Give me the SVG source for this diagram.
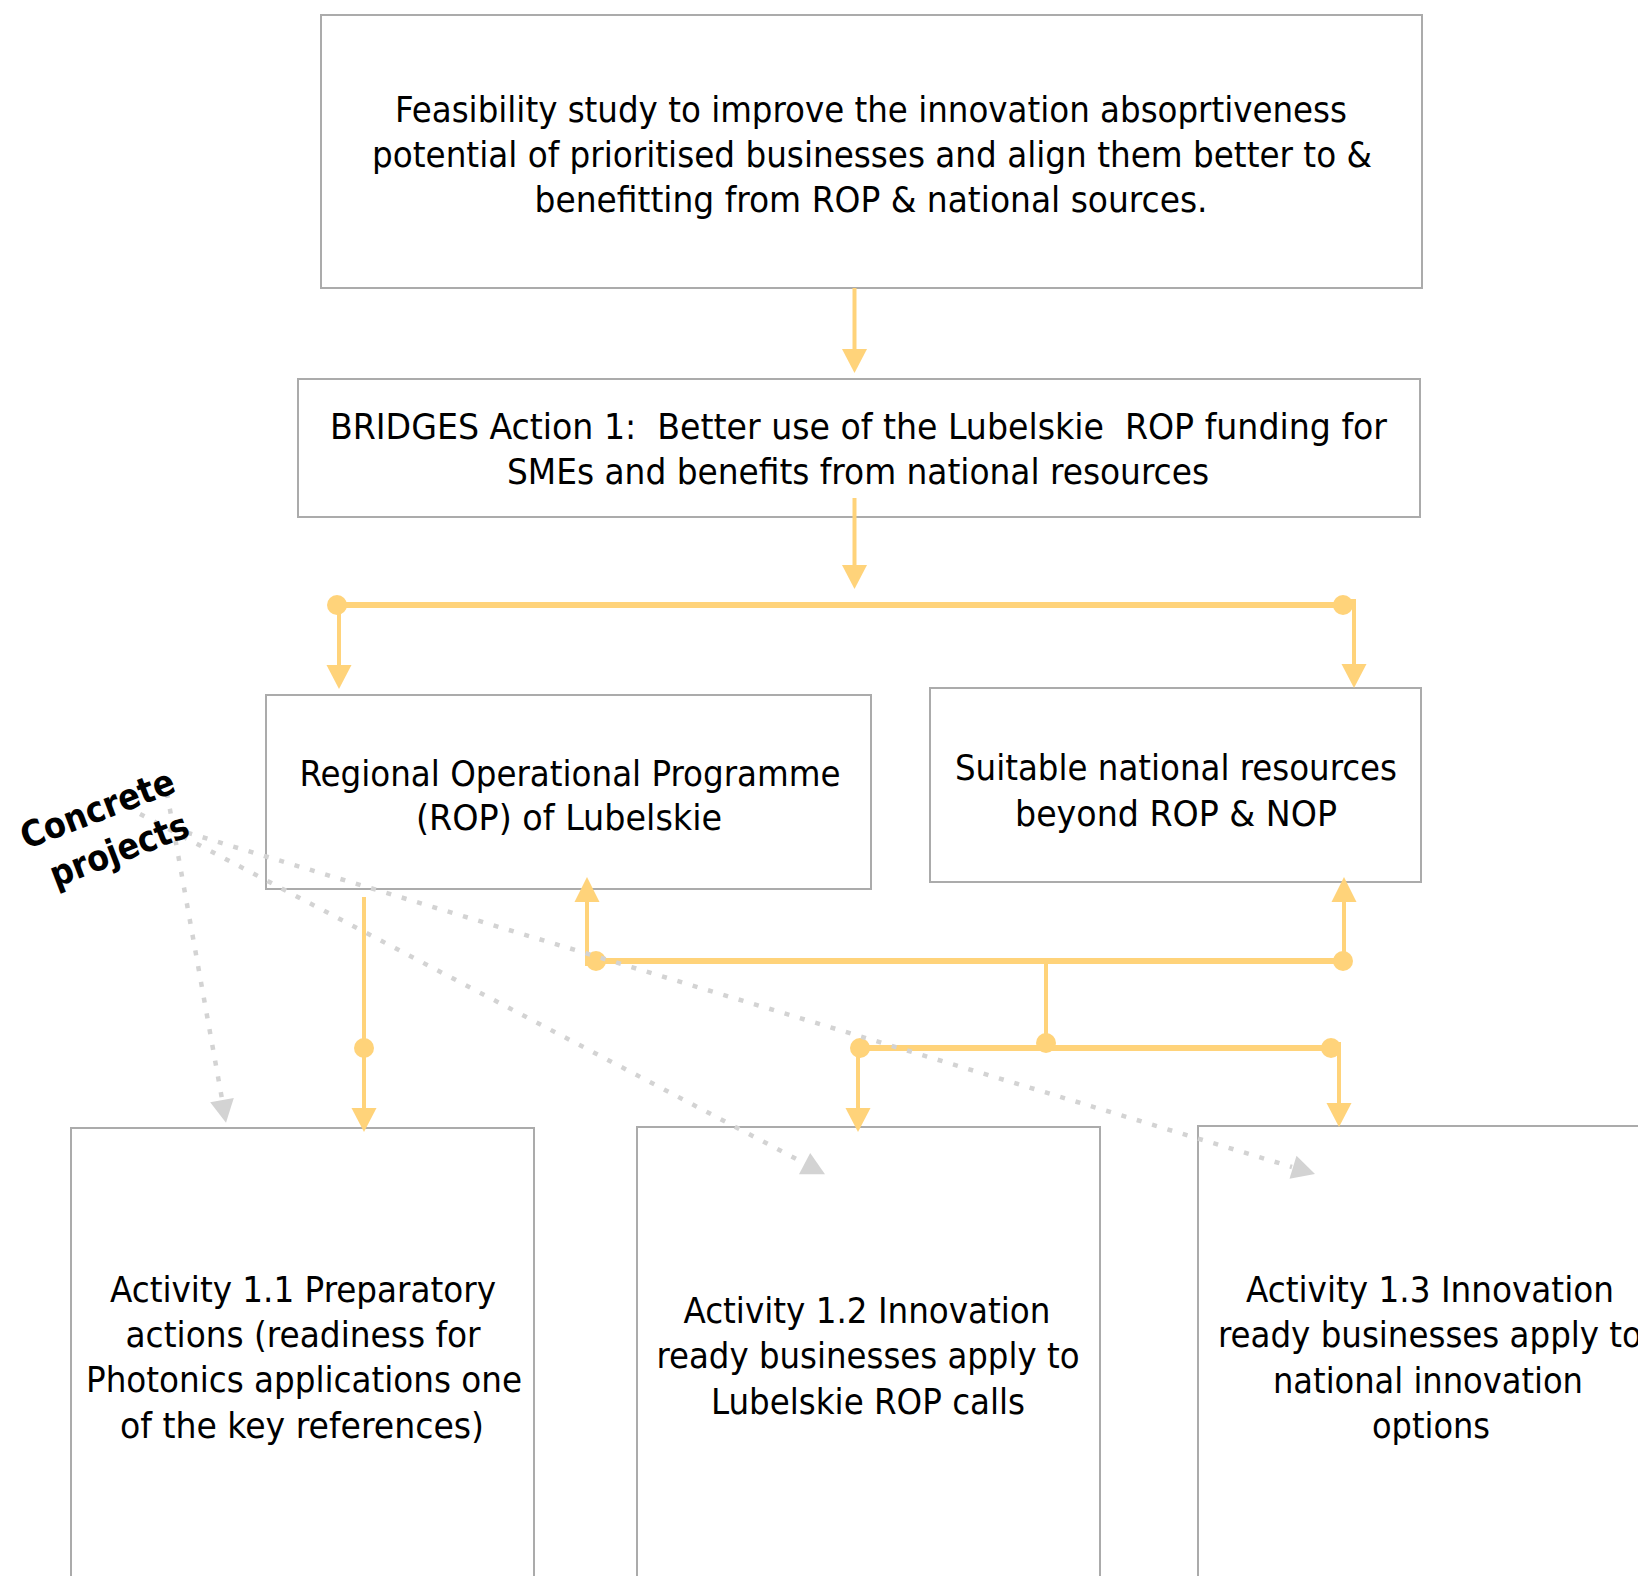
<svg xmlns="http://www.w3.org/2000/svg" width="1638" height="1576" viewBox="0 0 1638 1576">
<style>
.box{fill:#ffffff;stroke:#ababab;stroke-width:2}
.t{font-family:"DejaVu Sans Condensed","DejaVu Sans",sans-serif;font-size:35px;fill:#000;text-anchor:middle}
.b{font-family:"DejaVu Sans","Liberation Sans",sans-serif;font-size:36px;font-weight:bold;fill:#000;text-anchor:middle}
.o{stroke:#FFD37A;fill:none;stroke-width:4}
.ob{stroke:#FFD37A;fill:none;stroke-width:6}
.oh{fill:#FFD37A}
.g{stroke:#D3D3D3;fill:none;stroke-width:4.5;stroke-dasharray:5 11}
.gh{fill:#D3D3D3}
</style>
<rect width="1638" height="1576" fill="#ffffff"/>

<g id="feasibility">
<rect class="box" x="321" y="15" width="1101" height="273"/>
<text class="t" x="871" y="122" textLength="952" lengthAdjust="spacingAndGlyphs">Feasibility study to improve the innovation absoprtiveness</text>
<text class="t" x="872" y="167" textLength="1000" lengthAdjust="spacingAndGlyphs">potential of prioritised businesses and align them better to &amp;</text>
<text class="t" x="871" y="212" textLength="673" lengthAdjust="spacingAndGlyphs">benefitting from ROP &amp; national sources.</text>
</g>

<g id="bridges">
<rect class="box" x="298" y="379" width="1122" height="138"/>
<text class="t" x="858.5" y="439" textLength="1057" lengthAdjust="spacingAndGlyphs" xml:space="preserve">BRIDGES Action 1:  Better use of the Lubelskie  ROP funding for</text>
<text class="t" x="858" y="484" textLength="702" lengthAdjust="spacingAndGlyphs">SMEs and benefits from national resources</text>
</g>

<g id="rop">
<rect class="box" x="266" y="695" width="605" height="194"/>
<text class="t" x="570" y="786" textLength="541" lengthAdjust="spacingAndGlyphs">Regional Operational Programme</text>
<text class="t" x="569" y="830" textLength="306" lengthAdjust="spacingAndGlyphs">(ROP) of Lubelskie</text>
</g>

<g id="national">
<rect class="box" x="930" y="688" width="491" height="194"/>
<text class="t" x="1176" y="780" textLength="442" lengthAdjust="spacingAndGlyphs">Suitable national resources</text>
<text class="t" x="1176" y="826" textLength="322" lengthAdjust="spacingAndGlyphs">beyond ROP &amp; NOP</text>
</g>

<g id="activity11">
<rect class="box" x="71" y="1128" width="463" height="470"/>
<text class="t" x="303" y="1302" textLength="386" lengthAdjust="spacingAndGlyphs">Activity 1.1 Preparatory</text>
<text class="t" x="303" y="1347" textLength="355" lengthAdjust="spacingAndGlyphs">actions (readiness for</text>
<text class="t" x="304" y="1392" textLength="436" lengthAdjust="spacingAndGlyphs">Photonics applications one</text>
<text class="t" x="302" y="1438" textLength="364" lengthAdjust="spacingAndGlyphs">of the key references)</text>
</g>

<g id="activity12">
<rect class="box" x="637" y="1127" width="463" height="470"/>
<text class="t" x="867" y="1323" textLength="367" lengthAdjust="spacingAndGlyphs">Activity 1.2 Innovation</text>
<text class="t" x="868" y="1368" textLength="423" lengthAdjust="spacingAndGlyphs">ready businesses apply to</text>
<text class="t" x="868" y="1414" textLength="314" lengthAdjust="spacingAndGlyphs">Lubelskie ROP calls</text>
</g>

<g id="activity13">
<rect class="box" x="1198" y="1126" width="463" height="470"/>
<text class="t" x="1430" y="1302" textLength="368" lengthAdjust="spacingAndGlyphs">Activity 1.3 Innovation</text>
<text class="t" x="1430" y="1347" textLength="424" lengthAdjust="spacingAndGlyphs">ready businesses apply to</text>
<text class="t" x="1428" y="1393" textLength="310" lengthAdjust="spacingAndGlyphs">national innovation</text>
<text class="t" x="1431" y="1438" textLength="118" lengthAdjust="spacingAndGlyphs">options</text>
</g>

<g id="connectors">
<line class="o" x1="854.5" y1="288" x2="854.5" y2="352"/>
<polygon class="oh" points="854.5,373 842,349 867,349"/>
<line class="o" x1="854.5" y1="498" x2="854.5" y2="568"/>
<polygon class="oh" points="854.5,589 842,565 867,565"/>
<line class="ob" x1="337" y1="605" x2="1343" y2="605"/>
<circle class="oh" cx="337" cy="605" r="10"/>
<circle class="oh" cx="1343" cy="605" r="10"/>
<line class="o" x1="339" y1="605" x2="339" y2="668"/>
<polygon class="oh" points="339,689 326.5,665 351.5,665"/>
<path class="o" d="M1343,601 H1354 V667"/>
<polygon class="oh" points="1354,688 1341.5,664 1366.5,664"/>
<line class="o" x1="587" y1="966" x2="587" y2="898"/>
<polygon class="oh" points="587,877 574.5,902 599.5,902"/>
<line class="ob" x1="596" y1="961" x2="1343" y2="961"/>
<circle class="oh" cx="596" cy="961" r="10"/>
<circle class="oh" cx="1343" cy="961" r="10"/>
<line class="o" x1="1344" y1="961" x2="1344" y2="898"/>
<polygon class="oh" points="1344,877 1331.5,902 1356.5,902"/>
<line class="o" x1="1046" y1="958" x2="1046" y2="1043"/>
<circle class="oh" cx="1046" cy="1043" r="10"/>
<line class="ob" x1="860" y1="1048" x2="1331" y2="1048"/>
<circle class="oh" cx="860" cy="1048" r="10"/>
<circle class="oh" cx="1331" cy="1048" r="10"/>
<line class="o" x1="858" y1="1048" x2="858" y2="1110"/>
<polygon class="oh" points="858,1132 845.5,1108 870.5,1108"/>
<path class="o" d="M1331,1044 H1339 V1106"/>
<polygon class="oh" points="1339,1127 1326.5,1103 1351.5,1103"/>
<line class="o" x1="364" y1="897" x2="364" y2="1110"/>
<circle class="oh" cx="364" cy="1048" r="10"/>
<polygon class="oh" points="364,1132 351.5,1108 376.5,1108"/>
<line class="g" x1="167" y1="793" x2="222" y2="1099"/>
<polygon class="gh" points="226,1122.7 233.8,1098 210.2,1102.2"/>
<line class="g" x1="140" y1="814" x2="804" y2="1163"/>
<polygon class="gh" points="825,1174.3 810.2,1153 799,1174.2"/>
<line class="g" x1="172" y1="828" x2="1292" y2="1167"/>
<polygon class="gh" points="1315,1174 1296.5,1155.8 1289.5,1178.8"/>
</g>

<g id="concrete-projects" transform="translate(108.5,829.8) rotate(-21)">
<text class="b" x="-2.75" y="-11" textLength="162" lengthAdjust="spacingAndGlyphs">Concrete</text>
<text class="b" x="2.75" y="35" textLength="146" lengthAdjust="spacingAndGlyphs">projects</text>
</g>
</svg>
